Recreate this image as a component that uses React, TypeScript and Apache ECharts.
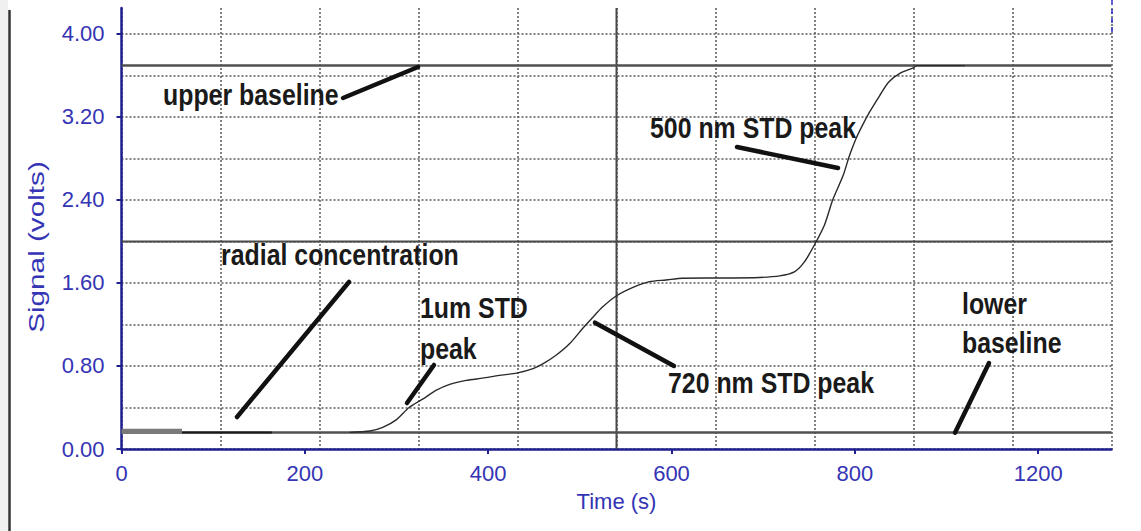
import { useEffect, useRef } from "react";
import * as echarts from "echarts";

// ---- data ----
const xTickValues = [0, 200, 400, 600, 800, 1000];
const xTickLabels = ["0", "200", "400", "600", "800", "1200"];
const yTickValues = [0, 0.8, 1.6, 2.4, 3.2, 4.0];

const upperBaselineVolts = 3.695;
const lowerBaselineVolts = 0.16;
const centerTime = 540;
const centerVolts = 2.0;

const offsetTimes = [0, 66];
const offsetVolts = [0.171, 0.171];
const leadTimes = [66, 164];
const leadVolts = [0.16, 0.16];

const signalTimes = [249, 271, 285, 300, 314, 329, 343, 358, 376, 394, 412, 431, 449, 460, 474, 489, 503, 514, 525, 540, 558, 576, 594, 612, 652, 696, 718, 734, 745, 756, 767, 776, 787, 794, 801, 808, 816, 827, 837, 850, 863, 868, 920];
const signalVolts = [0.16, 0.173, 0.208, 0.283, 0.402, 0.483, 0.564, 0.622, 0.661, 0.683, 0.709, 0.731, 0.774, 0.822, 0.903, 1.016, 1.161, 1.268, 1.37, 1.477, 1.558, 1.613, 1.629, 1.646, 1.648, 1.653, 1.668, 1.707, 1.803, 1.968, 2.162, 2.404, 2.63, 2.823, 2.985, 3.114, 3.246, 3.404, 3.537, 3.624, 3.67, 3.695, 3.695];

const xAxisTitle = "Time (s)";
const yAxisTitle = "Signal (volts)";

const X_MAX = 1080;
const Y_MAX = 4.25;

const pairs = (xs: number[], ys: number[]) => xs.map((x, i) => [x, ys[i]]);

const axisBlue = "#1f1f8f";
const labelBlue = "#3434b4";
const gridColor = "#5a5a5a";
const tickFont = "'Liberation Sans', Arial, sans-serif";
const noteFont = "'Liberation Sans', Arial, sans-serif";

export default function App() {
  const ref = useRef<HTMLDivElement>(null);
  useEffect(() => {
    if (!ref.current) return;
    const chart = echarts.init(ref.current, null, { renderer: "svg" });

    const note = (text: string, x: number, y: number) => ({
      type: "text",
      x,
      y,
      scaleX: 0.83,
      z: 100,
      style: {
        text,
        fontSize: 30,
        fontWeight: "bold",
        fontFamily: noteFont,
        fill: "#1a1a1a",
        verticalAlign: "middle",
        align: "left",
      },
    });
    const leader = (x1: number, y1: number, x2: number, y2: number) => ({
      type: "line",
      z: 100,
      shape: { x1, y1, x2, y2 },
      style: { stroke: "#111", lineWidth: 4.5, lineCap: "round" },
    });

    const option: any = {
      animation: false,
      backgroundColor: "#fff",
      grid: { left: 121.5, right: 29.5, top: 8, bottom: 82, containLabel: false },
      xAxis: [
        {
          type: "value",
          min: 0,
          max: X_MAX,
          interval: 108,
          axisLine: { show: true, onZero: false, lineStyle: { color: axisBlue, width: 2.5 } },
          axisTick: { show: false },
          axisLabel: { show: false },
          splitLine: { show: true, lineStyle: { color: gridColor, width: 1.5, type: [2, 2] } },
          name: xAxisTitle,
          nameLocation: "middle",
          nameGap: 41,
          nameTextStyle: { color: labelBlue, fontSize: 22, fontFamily: tickFont },
        },
        {
          type: "value",
          min: 0,
          max: X_MAX,
          interval: 200,
          position: "bottom",
          axisLine: { show: false, onZero: false },
          axisTick: { show: true, length: 5, customValues: xTickValues, lineStyle: { color: axisBlue, width: 2 } },
          axisLabel: {
            show: true,
            customValues: xTickValues,
            margin: 13,
            color: labelBlue,
            fontSize: 22,
            fontFamily: tickFont,
            formatter: (v: number) => {
              const i = xTickValues.findIndex((t) => Math.abs(t - v) < 1e-6);
              return i >= 0 ? xTickLabels[i] : "";
            },
          },
          splitLine: { show: false },
        },
      ],
      yAxis: [
        {
          type: "value",
          min: 0,
          max: Y_MAX,
          interval: 0.4,
          axisLine: { show: true, onZero: false, lineStyle: { color: axisBlue, width: 2.5 } },
          axisTick: { show: false },
          axisLabel: { show: false },
          splitLine: { show: true, showMaxLine: false, lineStyle: { color: gridColor, width: 1.5, type: [2, 2] } },
        },
        {
          type: "value",
          min: 0,
          max: Y_MAX,
          interval: 0.8,
          position: "left",
          axisLine: { show: false, onZero: false },
          axisTick: { show: true, length: 5, customValues: yTickValues, lineStyle: { color: axisBlue, width: 2 } },
          axisLabel: {
            show: true,
            customValues: yTickValues,
            margin: 17,
            color: labelBlue,
            fontSize: 22,
            fontFamily: tickFont,
            formatter: (v: number) =>
              yTickValues.some((t) => Math.abs(t - v) < 1e-6) ? v.toFixed(2) : "",
          },
          splitLine: { show: false },
        },
      ],
      series: [
        {
          type: "line",
          name: "center-h",
          data: [[0, centerVolts], [X_MAX, centerVolts]],
          symbol: "none",
          lineStyle: { color: "#4a4a4a", width: 2 },
          silent: true,
          z: 2,
        },
        {
          type: "line",
          name: "center-v",
          data: [[centerTime, 0], [centerTime, Y_MAX]],
          symbol: "none",
          lineStyle: { color: "#4a4a4a", width: 2 },
          silent: true,
          z: 2,
        },
        {
          type: "line",
          name: "upper baseline",
          data: [[0, upperBaselineVolts], [X_MAX, upperBaselineVolts]],
          symbol: "none",
          lineStyle: { color: "#505050", width: 2.5 },
          z: 3,
        },
        {
          type: "line",
          name: "lower baseline",
          data: [[0, lowerBaselineVolts], [X_MAX, lowerBaselineVolts]],
          symbol: "none",
          lineStyle: { color: "#505050", width: 2.5 },
          z: 3,
        },
        {
          type: "line",
          name: "offset",
          data: pairs(offsetTimes, offsetVolts),
          symbol: "none",
          lineStyle: { color: "#7a7a7a", width: 5 },
          z: 4,
        },
        {
          type: "line",
          name: "lead",
          data: pairs(leadTimes, leadVolts),
          symbol: "none",
          lineStyle: { color: "#1a1a1a", width: 2 },
          z: 5,
        },
        {
          type: "line",
          name: "signal",
          data: pairs(signalTimes, signalVolts),
          symbol: "none",
          smooth: 0.25,
          lineStyle: { color: "#2a2a2a", width: 1.4 },
          z: 6,
        },
      ],
      graphic: [
        { type: "rect", shape: { x: 0, y: 0, width: 8, height: 531 }, style: { fill: "#f0f0f0" }, z: 50 },
        { type: "line", shape: { x1: 9.5, y1: 10, x2: 9.5, y2: 531 }, style: { stroke: "#333", lineWidth: 2.5 }, z: 50 },
        { type: "line", shape: { x1: 1112, y1: 0, x2: 1112, y2: 34 }, style: { stroke: "#3030c0", lineWidth: 1.5, lineDash: [5, 4] }, z: 50 },
        {
          type: "text",
          x: 36,
          y: 247,
          rotation: Math.PI / 2,
          scaleX: 1.35,
          z: 60,
          style: {
            text: yAxisTitle,
            fontSize: 22,
            fontFamily: tickFont,
            fill: labelBlue,
            align: "center",
            verticalAlign: "middle",
          },
        },
        note("upper baseline", 163, 94.5),
        leader(343, 98, 418, 67),
        note("radial concentration", 221, 254.5),
        leader(349, 282, 237, 417),
        note("1um STD", 420, 307.5),
        note("peak", 420, 349),
        leader(434, 365, 407, 403),
        note("720 nm STD peak", 668, 383),
        leader(595, 322.7, 674, 366),
        note("500 nm STD peak", 650, 128),
        leader(737, 147, 838, 168),
        note("lower", 962, 304),
        note("baseline", 962, 342.7),
        leader(989, 363, 955, 432.7),
      ],
    };
    chart.setOption(option);
    return () => chart.dispose();
  }, []);
  return (
    <div
      ref={ref}
      style={{ position: "fixed", left: 0, top: 0, width: 1141, height: 531, background: "#fff" }}
    />
  );
}
